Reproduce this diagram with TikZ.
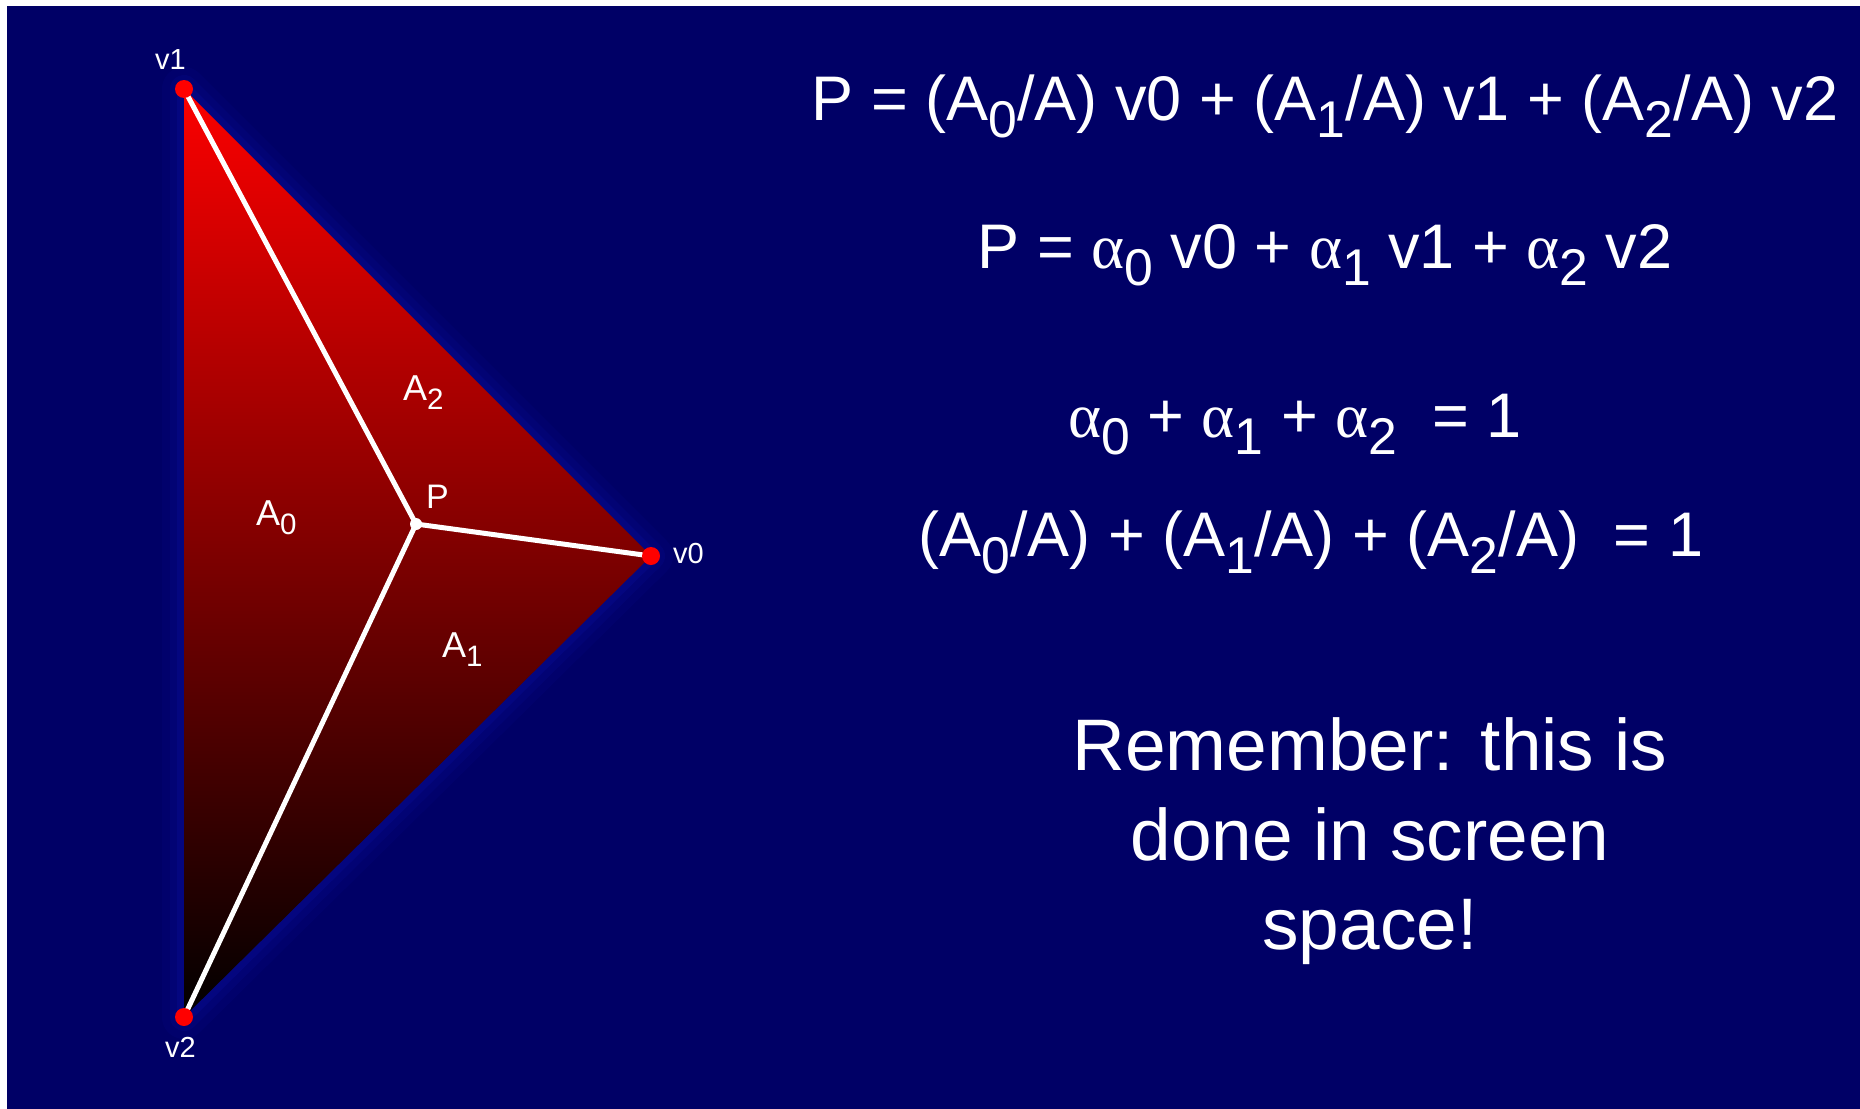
\documentclass[tikz,border=0pt]{standalone}
\usepackage{fontspec}
\setmainfont{Liberation Sans}
\newfontfamily\greekfont{Liberation Serif}
\definecolor{bgblue}{RGB}{0,0,102}
\definecolor{glowblue}{RGB}{20,30,210}
\definecolor{dotred}{RGB}{255,0,0}
\definecolor{topred}{RGB}{252,0,0}
\newcommand\sbs[1]{\raisebox{-0.27em}{\scalebox{0.82}{#1}}}
\newcommand\alp{{\greekfont α}}
\tikzset{
  eqtext/.style={text=white, inner sep=0pt, anchor=base, font=\fontsize{63}{75}\selectfont},
  remtext/.style={text=white, inner sep=0pt, anchor=base, font=\fontsize{73}{89}\selectfont},
  arealabel/.style={text=white, inner sep=0pt, anchor=base west, font=\fontsize{36}{40}\selectfont},
  vlabel/.style={text=white, inner sep=0pt, anchor=base west, font=\fontsize{29}{32}\selectfont},
  reddot/.style={circle, fill=dotred, inner sep=0pt, minimum size=18pt},
  whitedot/.style={circle, fill=white, inner sep=0pt, minimum size=12pt},
  spoke/.style={white, line width=5pt, line cap=round}
}
\begin{document}
\begin{tikzpicture}[x=1pt,y=-1pt]
\useasboundingbox (0,0) rectangle (1860,1108);
\fill[white] (0,0) rectangle (1860,1108);
\fill[bgblue] (7,6) rectangle (1880,1130);
% vertices
\coordinate (c1) at (184,89);
\coordinate (c0) at (651,556);
\coordinate (c2) at (184,1017);
\coordinate (cP) at (416,524);
% soft glow around the triangle
\draw[glowblue, line width=44pt, opacity=0.06, line join=round] (c1)--(c0)--(c2)--cycle;
\draw[glowblue, line width=28pt, opacity=0.08, line join=round] (c1)--(c0)--(c2)--cycle;
\draw[glowblue, line width=14pt, opacity=0.12, line join=round] (c1)--(c0)--(c2)--cycle;
% shaded triangle
\shade[top color=topred, bottom color=black] (c1)--(c0)--(c2)--cycle;
% spokes
\draw[spoke] (cP) -- (c1);
\draw[spoke] (cP) -- (c0);
\draw[spoke] (cP) -- (c2);
% dots
\node[reddot] (v1) at (c1) {};
\node[reddot] (v0) at (c0) {};
\node[reddot] (v2) at (c2) {};
\node[whitedot] (P) at (cP) {};
% vertex labels
\node[vlabel] (lv1) at (155,70) {v1};
\node[vlabel] (lv2) at (165,1057) {v2};
\node[vlabel] (lv0) at (673,563) {v0};
% area labels
\node[arealabel] (lA0) at (256,525) {A\sbs{0}};
\node[arealabel] (lA2) at (403,400) {A\sbs{2}};
\node[arealabel] (lA1) at (442,657) {A\sbs{1}};
\node[arealabel, font=\fontsize{34}{38}\selectfont] (lP) at (426,508) {P};
% equations
\node[eqtext] (eq1) at (1325,120) {P = (A\sbs{0}/A) v0 + (A\sbs{1}/A) v1 + (A\sbs{2}/A) v2};
\node[eqtext] (eq2) at (1325,268) {P = \alp\sbs{0} v0 + \alp\sbs{1} v1 + \alp\sbs{2} v2};
\node[eqtext] (eq3) at (1295,437) {\alp\sbs{0} + \alp\sbs{1} + \alp\sbs{2} \ = 1};
\node[eqtext] (eq4) at (1311,556) {(A\sbs{0}/A) + (A\sbs{1}/A) + (A\sbs{2}/A) \ = 1};
% remark
\node[remtext] (rem1) at (1370,770) {Remember: this is};
\node[remtext] (rem2) at (1370,860) {done in screen};
\node[remtext] (rem3) at (1370,949) {space!};
\end{tikzpicture}
\end{document}
